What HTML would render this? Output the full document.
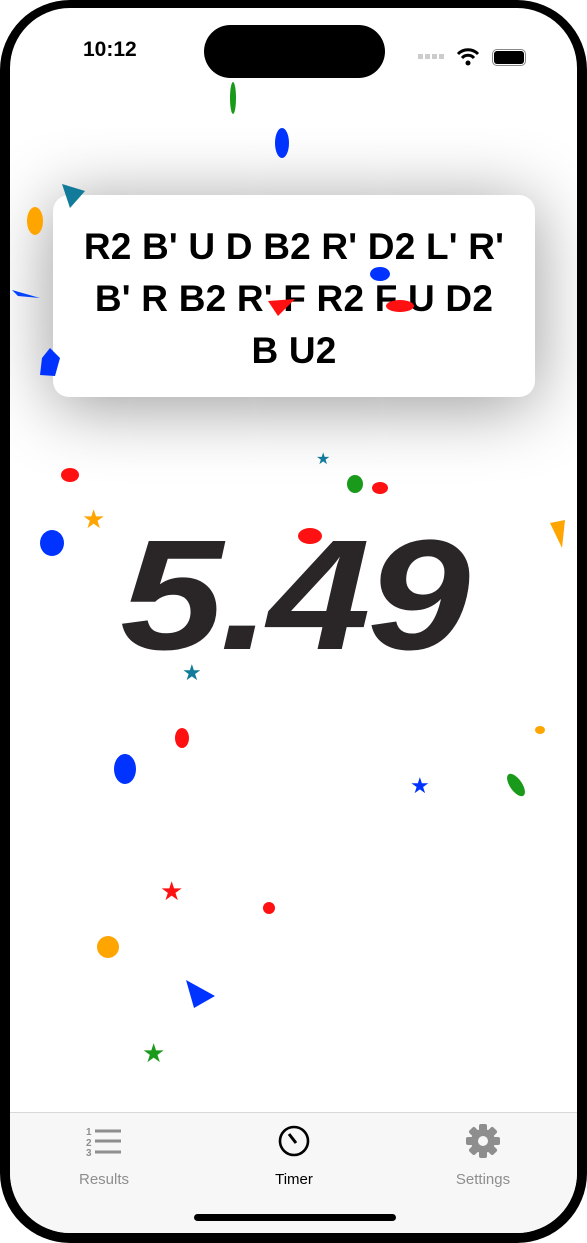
<!DOCTYPE html>
<html><head><meta charset="utf-8"><style>
html,body{margin:0;padding:0;background:#fff;}
body{width:587px;height:1243px;position:relative;overflow:hidden;font-family:"Liberation Sans",sans-serif;}
#phone{position:absolute;left:0;top:0;width:587px;height:1243px;border-radius:70px;background:#000;}
#screen{position:absolute;left:10px;top:8px;width:567px;height:1225px;border-radius:60px;background:#fff;overflow:hidden;}
.abs{position:absolute;}
#card{left:43px;top:187px;width:482px;height:202px;border-radius:16px;background:#fff;box-shadow:0 8px 70px rgba(0,0,0,0.42);text-align:center;}
#scramble{margin-top:26px;font-weight:bold;font-size:37px;line-height:52px;color:#000;letter-spacing:0.2px;}
#time{left:0;width:567px;top:488px;text-align:center;font-size:157px;font-weight:bold;font-style:italic;color:#2a2627;letter-spacing:-3px;line-height:200px;transform:scaleX(1.18);transform-origin:284px 0;}
#tabbar{left:0;top:1104px;width:567px;height:121px;background:#f7f7f7;border-top:1px solid #d8d8d8;}
.tab{position:absolute;top:58px;width:120px;text-align:center;font-size:15px;color:#8e8e8e;}
</style></head><body>
<div id="phone">
<div id="screen">
 <div class="abs" style="left:73px;top:30px;font-size:21px;font-weight:bold;color:#000;">10:12</div>
 <div class="abs" style="left:194px;top:17px;width:181px;height:53px;border-radius:27px;background:#000;"></div>
 <div class="abs" style="left:408px;top:46px;width:28px;height:5px;background:repeating-linear-gradient(90deg,#ccc 0 5px,transparent 5px 7px);"></div>
 <svg class="abs" style="left:446px;top:40px" width="24" height="18" viewBox="0 0 24 18"><path d="M2 6 A14 14 0 0 1 22 6" stroke="#000" stroke-width="3" fill="none"/><path d="M6 10 A8 8 0 0 1 18 10" stroke="#000" stroke-width="3" fill="none"/><circle cx="12" cy="15" r="2.5"/></svg>
 <div class="abs" style="left:482px;top:41px;width:30px;height:13px;border:1.5px solid #888;border-radius:5px;padding:1px;"><div style="width:100%;height:100%;background:#000;border-radius:3px;"></div></div>
 <div class="abs" id="card"><div id="scramble">R2 B' U D B2 R' D2 L' R'<br>B' R B2 R' F R2 F U D2<br>B U2</div></div>
 <div class="abs" id="time">5.49</div>
 <svg class="abs" style="left:0;top:0" width="567" height="1100">
  <ellipse cx="223" cy="90" rx="3" ry="16" fill="#1a9a1a"/>
  <ellipse cx="272" cy="135" rx="7" ry="15" fill="#0033ff"/>
  <polygon points="52,176 75,183 60,200" fill="#127a9a"/>
  <ellipse cx="25" cy="213" rx="8" ry="14" fill="#ffa500"/>
  <polygon points="2,282 30,290 8,288" fill="#0044ff"/>
  <polygon points="40,340 50,350 45,368 30,367 32,350" fill="#0033ff"/>
  <ellipse cx="370" cy="266" rx="10" ry="7" fill="#0033ff"/>
  <polygon points="258,293 285,291 268,308" fill="#ff1111"/>
  <ellipse cx="390" cy="298" rx="14" ry="6" fill="#ff1111"/>
  <ellipse cx="60" cy="467" rx="9" ry="7" fill="#ff1111"/>
  <ellipse cx="42" cy="535" rx="12" ry="13" fill="#0033ff"/>
  <text x="72" y="520" font-size="26" fill="#ffa500">★</text>
  <ellipse cx="300" cy="528" rx="12" ry="8" fill="#ff1111"/>
  <ellipse cx="345" cy="476" rx="8" ry="9" fill="#1a9a1a"/>
  <ellipse cx="370" cy="480" rx="8" ry="6" fill="#ff1111"/>
  <polygon points="540,515 555,512 552,540" fill="#ffa500"/>
  <ellipse cx="172" cy="730" rx="7" ry="10" fill="#ff1111"/>
  <ellipse cx="115" cy="761" rx="11" ry="15" fill="#0033ff"/>
  <text x="400" y="785" font-size="22" fill="#0033ff">★</text>
  <ellipse cx="506" cy="777" rx="6" ry="13" fill="#1a9a1a" transform="rotate(-35 506 777)"/>
  <text x="150" y="892" font-size="26" fill="#ff1111">★</text>
  <circle cx="259" cy="900" r="6" fill="#ff1111"/>
  <circle cx="98" cy="939" r="11" fill="#ffa500"/>
  <polygon points="176,972 205,988 184,1000" fill="#0033ff"/>
  <text x="132" y="1054" font-size="26" fill="#1a9a1a">★</text>
  <text x="172" y="672" font-size="22" fill="#127a9a">★</text>
  <text x="306" y="456" font-size="16" fill="#127a9a">★</text>
  <ellipse cx="530" cy="722" rx="5" ry="4" fill="#ffa500"/>
 </svg>
 <div class="abs" id="tabbar">
  <svg class="abs" style="left:76px;top:12px" width="36" height="32"><g fill="#8e8e8e" font-size="10" font-weight="bold" font-family="Liberation Sans"><text x="0" y="10">1</text><text x="0" y="21">2</text><text x="0" y="31">3</text></g><g stroke="#8e8e8e" stroke-width="3"><line x1="9" y1="6" x2="35" y2="6"/><line x1="9" y1="16" x2="35" y2="16"/><line x1="9" y1="27" x2="35" y2="27"/></g></svg>
  <div class="tab" style="left:34px;">Results</div>
  <svg class="abs" style="left:266px;top:10px" width="36" height="34"><circle cx="18" cy="18" r="14" stroke="#000" stroke-width="2.6" fill="none"/><line x1="13" y1="11" x2="20" y2="20" stroke="#000" stroke-width="3"/></svg>
  <div class="tab" style="left:224px;color:#000;">Timer</div>
  <svg class="abs" style="left:455px;top:10px" width="36" height="36" viewBox="0 0 36 36"><g fill="#8e8e8e"><circle cx="18" cy="18" r="12"/><rect x="14" y="1" width="8" height="8" rx="2"/><rect x="14" y="27" width="8" height="8" rx="2"/><rect x="1" y="14" width="8" height="8" rx="2"/><rect x="27" y="14" width="8" height="8" rx="2"/><g transform="rotate(45 18 18)"><rect x="14" y="1" width="8" height="8" rx="2"/><rect x="14" y="27" width="8" height="8" rx="2"/><rect x="1" y="14" width="8" height="8" rx="2"/><rect x="27" y="14" width="8" height="8" rx="2"/></g></g><circle cx="18" cy="18" r="5" fill="#f7f7f7"/></svg>
  <div class="tab" style="left:413px;">Settings</div>
  <div class="abs" style="left:184px;top:101px;width:202px;height:7px;border-radius:4px;background:#000;"></div>
 </div>
</div>
</div>
</body></html>
